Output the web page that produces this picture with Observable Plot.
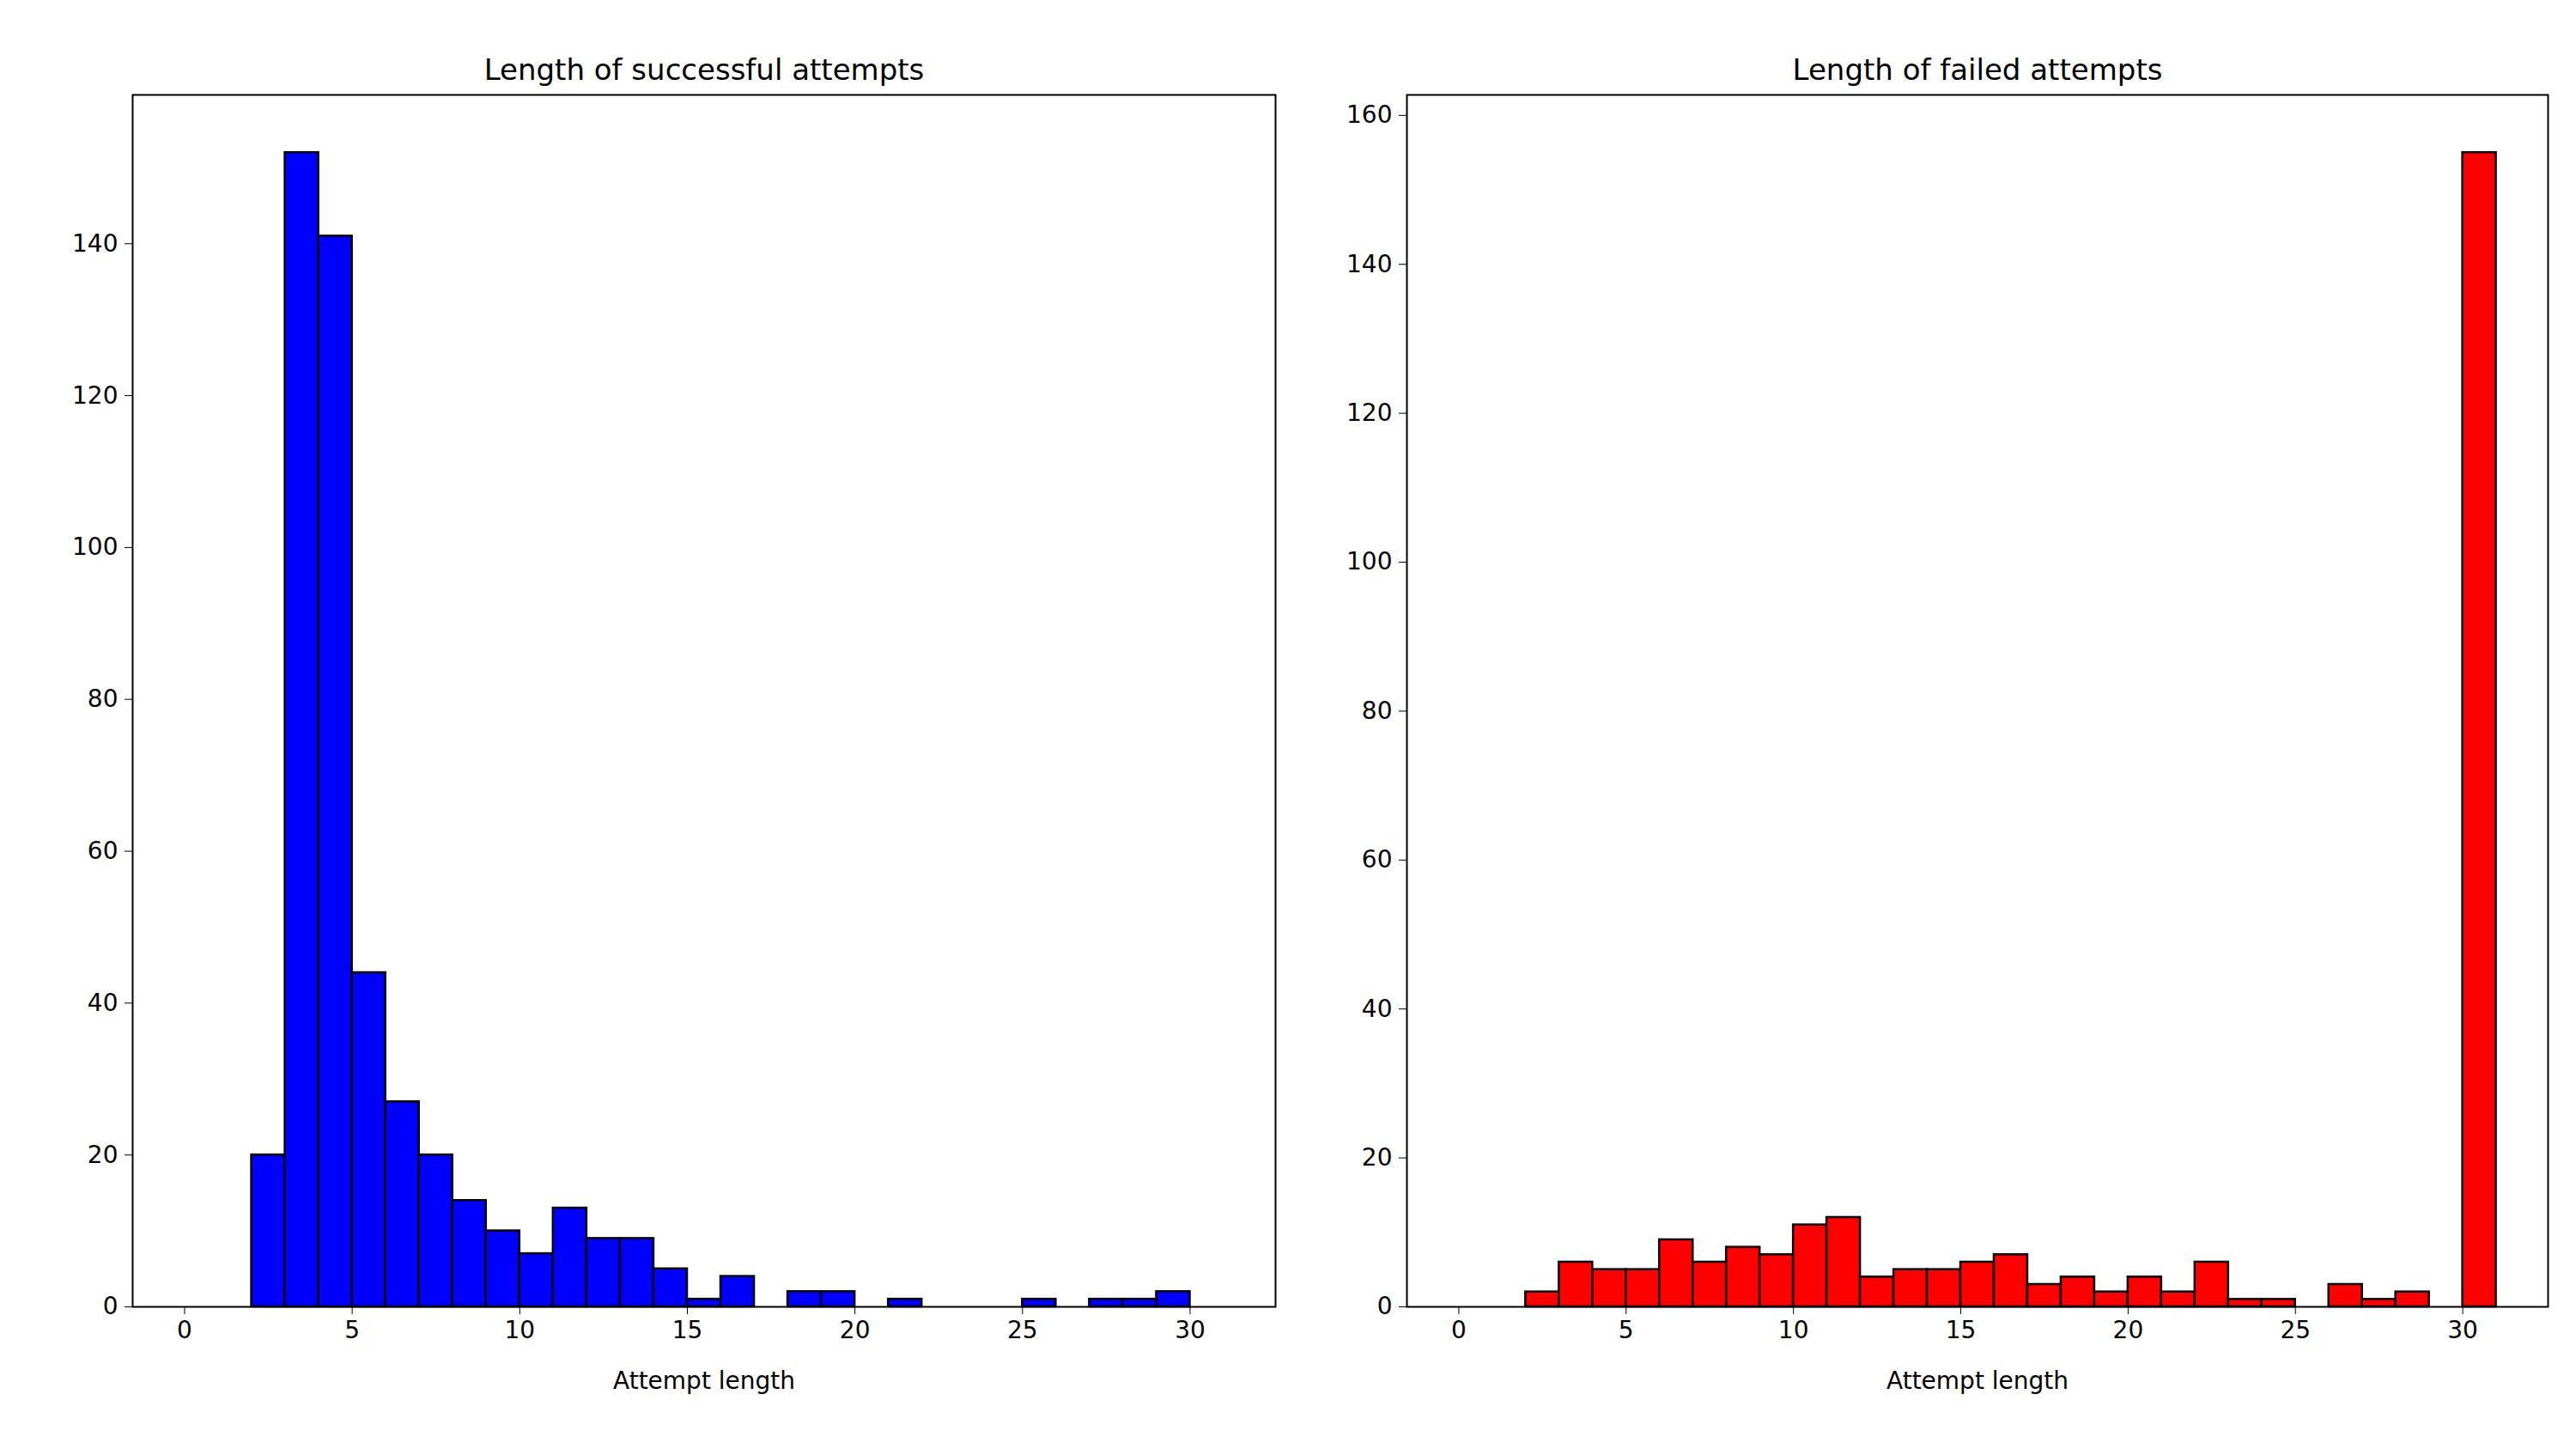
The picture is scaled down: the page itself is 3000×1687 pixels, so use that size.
<!DOCTYPE html>
<html>
<head>
  <script src="https://cdn.jsdelivr.net/npm/d3@7"></script>
  <script src="https://cdn.jsdelivr.net/npm/@observablehq/plot@0.6"></script>
  <style>
    body { margin: 0; background: white; }
    #wrap { position: relative; width: 3000px; height: 1687px; }
    #wrap > svg { position: absolute; top: 0; }
  </style>
</head>
<body>
  <div id="wrap"></div>
  <script>
    // bin edges 0..31, width 1
    const binStarts = d3.range(0, 31);
    const successCounts = [0, 0, 20, 152, 141, 44, 27, 20, 14, 10, 7, 13, 9, 9, 5, 1, 4, 0, 2, 2, 0, 1, 0, 0, 0, 1, 0, 1, 1, 2, 0];
    const failedCounts = [0, 0, 2, 6, 5, 5, 9, 6, 8, 7, 11, 12, 4, 5, 5, 6, 7, 3, 4, 2, 4, 2, 6, 1, 1, 0, 3, 1, 2, 0, 155];
    const xTicks = [0, 5, 10, 15, 20, 25, 30];

    function panel(counts, color, title, yTop, left, mLeft, mRight) {
      const data = binStarts.map((s, i) => ({x1: s, x2: s + 1, y: counts[i]}));
      const chart = Plot.plot({
        width: 1500, height: 1687,
        marginLeft: mLeft, marginRight: mRight, marginTop: 110, marginBottom: 166,
        style: {fontFamily: "DejaVu Sans", fontSize: "28px", color: "black", background: "white"},
        x: {domain: [-1.55, 32.55], ticks: xTicks, tickSize: 9, tickPadding: 8, label: "Attempt length", labelAnchor: "center", labelArrow: "none", labelOffset: 95},
        y: {domain: [0, yTop], ticks: d3.range(0, yTop, 20), tickSize: 9, tickPadding: 8, label: null},
        marks: [
          Plot.rectY(data, {x1: "x1", x2: "x2", y: "y", fill: color, stroke: "black", strokeWidth: 2.5, insetLeft: 0, insetRight: 0}),
          Plot.frame({stroke: "black", strokeWidth: 2}),
          Plot.text([title], {frameAnchor: "top", dy: -42, fontSize: 34, text: d => d})
        ]
      });
      chart.style.left = left + "px";
      document.getElementById("wrap").appendChild(chart);
    }

    panel(successCounts, "#0000ff", "Length of successful attempts", 159.6, 0, 154, 15);
    panel(failedCounts, "#ff0000", "Length of failed attempts", 162.75, 1500, 138, 33);
  </script>
</body>
</html>
